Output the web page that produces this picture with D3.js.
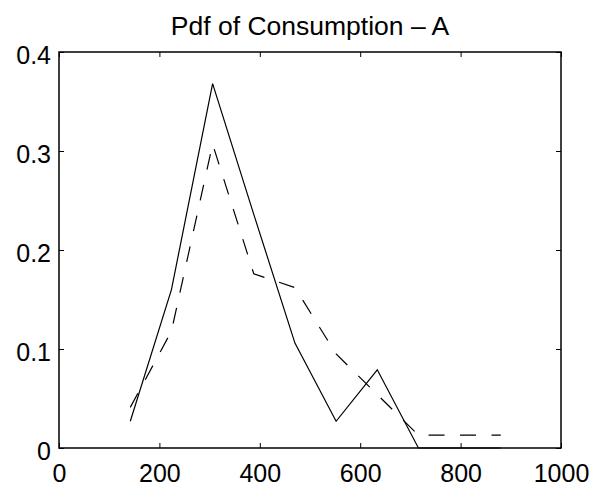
<!DOCTYPE html>
<html>
<head>
<meta charset="utf-8">
<script src="https://cdn.jsdelivr.net/npm/d3@7"></script>
<style>
  html, body { margin: 0; padding: 0; background: #fff; }
  svg text { font-family: "Liberation Sans", Arial, Helvetica, sans-serif; fill: #000; }
</style>
</head>
<body>
<div id="chart"></div>
<script>
// Values
const binCenters = [142, 224, 306, 388, 470, 552, 634, 716, 798, 880];
const solidPdf   = [0.027, 0.160, 0.368, 0.236, 0.106, 0.027, 0.079, 0, 0, 0];
const dashedPdf  = [0.041, 0.118, 0.307, 0.176, 0.162, 0.095, 0.054, 0.013, 0.013, 0.013];
const xTicks = [0, 200, 400, 600, 800, 1000];
const yTicks = [0, 0.1, 0.2, 0.3, 0.4];
const titleText = "Pdf of Consumption \u2013 A";

const width = 594, height = 489;
const margin = { top: 52, right: 33, bottom: 41, left: 59 };

const svg = d3.select("#chart")
  .append("svg")
  .attr("width", width)
  .attr("height", height);

// Scales
const x = d3.scaleLinear()
  .domain([0, 1000])
  .range([margin.left, width - margin.right]);

const y = d3.scaleLinear()
  .domain([0, 0.4])
  .range([height - margin.bottom, margin.top]);

// Lines
const line = d3.line()
  .x((d, i) => x(binCenters[i]))
  .y(d => y(d));

svg.append("path")
  .datum(dashedPdf)
  .attr("fill", "none")
  .attr("stroke", "#000")
  .attr("stroke-width", 1.2)
  .attr("stroke-dasharray", "16,15.5")
  .attr("d", line);

svg.append("path")
  .datum(solidPdf)
  .attr("fill", "none")
  .attr("stroke", "#000")
  .attr("stroke-width", 1.2)
  .attr("d", line);

// Axes (MATLAB style: ticks inward on all four sides)
const fontSize = 25;

const bottomAxis = svg.append("g")
  .attr("transform", `translate(0,${y(0)})`)
  .call(d3.axisBottom(x).tickValues(xTicks).tickSizeInner(-5).tickSizeOuter(0).tickPadding(16).tickFormat(d3.format("d")));

const leftAxis = svg.append("g")
  .attr("transform", `translate(${x(0)},0)`)
  .call(d3.axisLeft(y).tickValues(yTicks).tickSizeInner(-5).tickSizeOuter(0).tickPadding(8).tickFormat(d => d === 0 ? "0" : d3.format(".1f")(d)));

svg.append("g")
  .attr("transform", `translate(0,${y(0.4)})`)
  .call(d3.axisTop(x).tickValues(xTicks).tickSizeInner(-5).tickSizeOuter(0).tickFormat(""));

svg.append("g")
  .attr("transform", `translate(${x(1000)},0)`)
  .call(d3.axisRight(y).tickValues(yTicks).tickSizeInner(-5).tickSizeOuter(0).tickFormat(""));

svg.selectAll(".domain").remove();
svg.selectAll(".tick line").attr("stroke", "#000").attr("stroke-width", 1);
svg.selectAll(".tick text")
  .attr("font-size", fontSize)
  .attr("font-family", "Liberation Sans, Arial, Helvetica, sans-serif");
leftAxis.selectAll(".tick text").attr("dy", "0.44em");

// Box
svg.append("rect")
  .attr("x", x(0))
  .attr("y", y(0.4))
  .attr("width", x(1000) - x(0))
  .attr("height", y(0) - y(0.4))
  .attr("fill", "none")
  .attr("stroke", "#000")
  .attr("stroke-width", 1.5);

// Title
svg.append("text")
  .attr("x", (x(0) + x(1000)) / 2)
  .attr("y", 35)
  .attr("text-anchor", "middle")
  .attr("font-size", 26.5)
  .text(titleText);
</script>
</body>
</html>
